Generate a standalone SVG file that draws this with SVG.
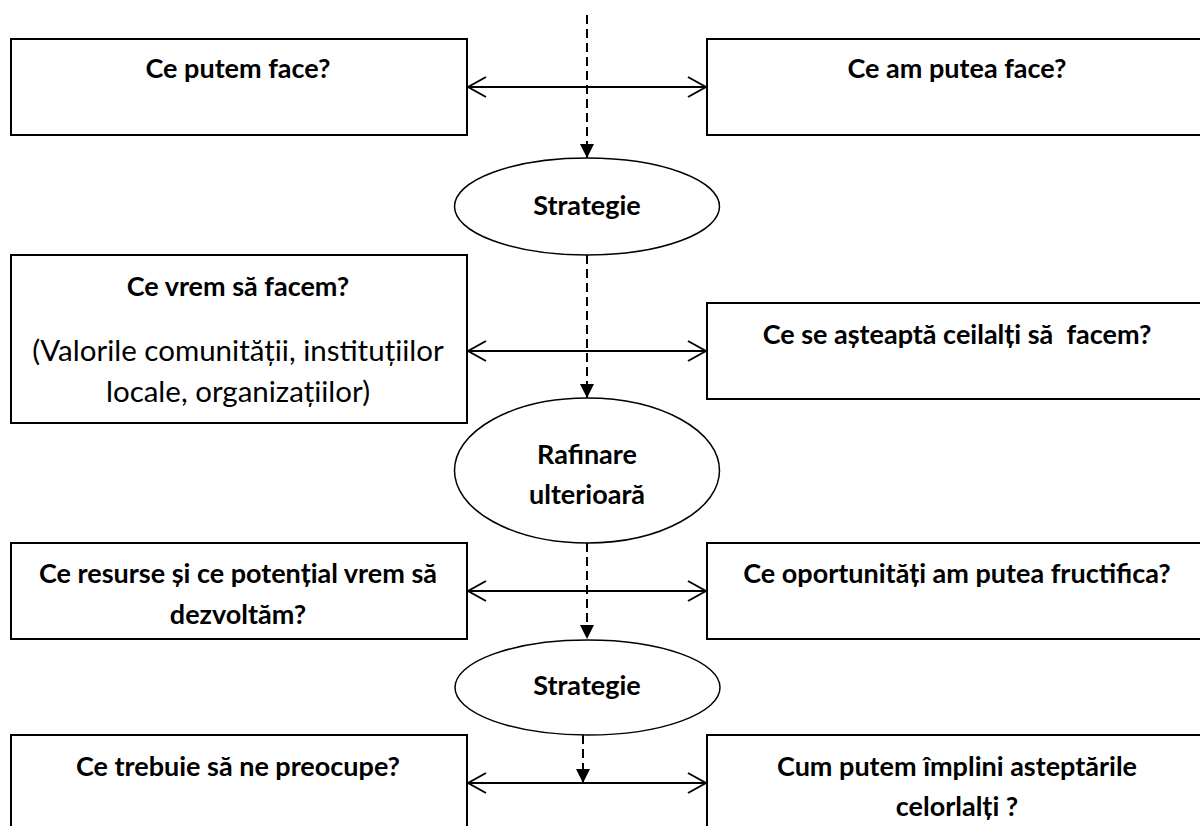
<svg xmlns="http://www.w3.org/2000/svg" width="1200" height="826" viewBox="0 0 1200 826">
<style>
.box{fill:#fff;stroke:#000;stroke-width:2}
.ell{fill:#fff;stroke:#000;stroke-width:1.5}
.t{font-family:Lato,"Liberation Sans",sans-serif;font-weight:bold;font-size:27px;text-anchor:middle;fill:#000;white-space:pre}
.r{font-weight:normal;font-size:29.5px}
.dash{stroke:#000;stroke-width:2;stroke-dasharray:9 5;fill:none}
.dbl{stroke:#000;stroke-width:2;fill:none}
</style>
<defs>
<marker id="open" viewBox="0 0 20 22" refX="19" refY="11" markerWidth="20" markerHeight="22" markerUnits="userSpaceOnUse" orient="auto-start-reverse"><path d="M1,1 L19,11 L1,21" fill="none" stroke="#000" stroke-width="2"/></marker>
<marker id="tri" viewBox="0 0 14 14" refX="14" refY="7" markerWidth="14" markerHeight="14" markerUnits="userSpaceOnUse" orient="auto"><path d="M0,0 L14,7 L0,14 z" fill="#000"/></marker>
</defs>
<rect width="1200" height="826" fill="#fff"/>
<g id="n1"><rect class="box" x="11" y="39" width="456" height="96"/><text class="t" x="238" y="78">Ce putem face?</text></g>
<g id="n2"><rect class="box" x="707" y="39" width="510" height="96"/><text class="t" x="957" y="78">Ce am putea face?</text></g>
<g id="e1"><ellipse class="ell" cx="587" cy="206.5" rx="132.5" ry="48.5"/><text class="t" x="587" y="215">Strategie</text></g>
<g id="n3"><rect class="box" x="11" y="255" width="456" height="168"/><text class="t" x="238" y="296">Ce vrem să facem?</text><text class="t r" x="238" y="361">(Valorile comunității, instituțiilor</text><text class="t r" x="238" y="402">locale, organizațiilor)</text></g>
<g id="n4"><rect class="box" x="707" y="303" width="510" height="96"/><text class="t" x="957" y="344">Ce se așteaptă ceilalți să  facem?</text></g>
<g id="e2"><ellipse class="ell" cx="587" cy="470.5" rx="132.5" ry="72.5"/><text class="t" x="587" y="464">Rafinare</text><text class="t" x="587" y="504">ulterioară</text></g>
<g id="n5"><rect class="box" x="11" y="543" width="456" height="96"/><text class="t" x="238" y="583">Ce resurse și ce potențial vrem să</text><text class="t" x="238" y="624">dezvoltăm?</text></g>
<g id="n6"><rect class="box" x="707" y="543" width="510" height="96"/><text class="t" x="957" y="583">Ce oportunități am putea fructifica?</text></g>
<g id="e3"><ellipse class="ell" cx="587.5" cy="687.5" rx="132.5" ry="47.5"/><text class="t" x="587" y="695">Strategie</text></g>
<g id="n7"><rect class="box" x="11" y="735" width="456" height="110"/><text class="t" x="238" y="776">Ce trebuie să ne preocupe?</text></g>
<g id="n8"><rect class="box" x="707" y="735" width="510" height="110"/><text class="t" x="957" y="776">Cum putem împlini asteptările</text><text class="t" x="957" y="816">celorlalți ?</text></g>
<g id="connectors">
<line class="dash" x1="587" y1="15" x2="587" y2="158" marker-end="url(#tri)"/>
<line class="dash" x1="587" y1="255" x2="587" y2="398" marker-end="url(#tri)"/>
<line class="dash" x1="587" y1="543" x2="587" y2="639" marker-end="url(#tri)"/>
<line class="dash" x1="583" y1="735" x2="583" y2="783" marker-end="url(#tri)"/>
<line class="dbl" x1="468" y1="87" x2="706" y2="87" marker-start="url(#open)" marker-end="url(#open)"/>
<line class="dbl" x1="468" y1="351" x2="706" y2="351" marker-start="url(#open)" marker-end="url(#open)"/>
<line class="dbl" x1="468" y1="591" x2="706" y2="591" marker-start="url(#open)" marker-end="url(#open)"/>
<line class="dbl" x1="468" y1="783" x2="706" y2="783" marker-start="url(#open)" marker-end="url(#open)"/>
</g>
</svg>
